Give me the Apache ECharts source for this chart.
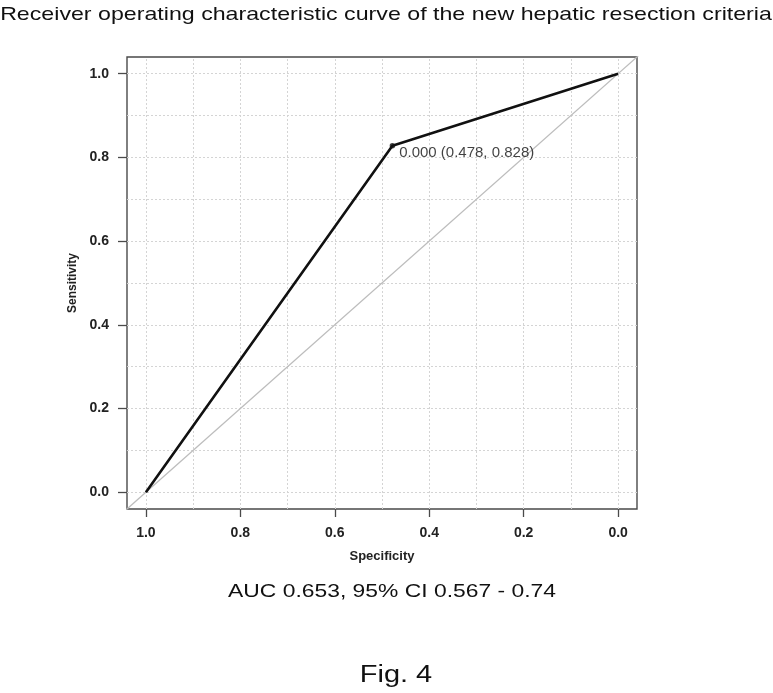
<!DOCTYPE html>
<html>
<head>
<meta charset="utf-8">
<script src="https://cdn.jsdelivr.net/npm/echarts@6/dist/echarts.min.js"></script>
<style>
  html, body { margin: 0; padding: 0; background: #fff; }
  #chart { width: 773px; height: 693px; }
</style>
</head>
<body>
<div id="chart"></div>
<script>
// ---- data ----
const specificity = [1.0, 0.478, 0.0];
const sensitivity = [0.0, 0.828, 1.0];
const thresholdPoint = [0.478, 0.828];
const thresholdLabel = '0.000 (0.478, 0.828)';
const chanceSpec = [1.5, -0.5];
const chanceSens = [-0.5, 1.5];
const tickValues = [0, 0.2, 0.4, 0.6, 0.8, 1.0];
const gridValues = [0, 0.1, 0.2, 0.3, 0.4, 0.5, 0.6, 0.7, 0.8, 0.9, 1.0];
const titleText = 'Receiver operating characteristic curve of the new hepatic resection criteria';
const aucText = 'AUC 0.653, 95% CI 0.567 - 0.74';
const figText = 'Fig. 4';
const xName = 'Specificity';
const yName = 'Sensitivity';

const FONT = '"Liberation Sans", Arial, Helvetica, sans-serif';
const chart = echarts.init(document.getElementById('chart'), null, { renderer: 'canvas' });

const rocData = specificity.map((s, i) => [s, sensitivity[i]]);
const chanceData = chanceSpec.map((s, i) => [s, chanceSens[i]]);
const gridLineStyle = { type: [2, 2], color: '#d4d4d4', width: 1 };

const option = {
  backgroundColor: '#fff',
  animation: false,
  textStyle: { fontFamily: FONT },
  grid: {
    left: 127, top: 57, width: 510, height: 452,
    show: true, borderColor: '#4a4a4a', borderWidth: 1.4, backgroundColor: 'transparent',
    containLabel: false
  },
  xAxis: {
    type: 'value', inverse: true, min: -0.04, max: 1.04,
    name: xName, nameLocation: 'middle', nameGap: 41,
    nameTextStyle: { fontSize: 13, fontWeight: 'bold', color: '#222', fontFamily: FONT },
    axisLine: { show: false, onZero: false },
    axisTick: { show: true, inside: false, length: 8, customValues: tickValues, lineStyle: { color: '#4a4a4a', width: 1.3 } },
    axisLabel: { show: true, customValues: tickValues, margin: 17, fontSize: 14, fontWeight: 'bold', color: '#222', fontFamily: FONT,
      formatter: v => v.toFixed(1) },
    splitLine: { show: false }
  },
  yAxis: {
    type: 'value', min: -0.04, max: 1.04,
    name: yName, nameLocation: 'middle', nameGap: 48, nameRotate: 90,
    nameTextStyle: { fontSize: 12, fontWeight: 'bold', color: '#222', fontFamily: FONT },
    axisLine: { show: false, onZero: false },
    axisTick: { show: true, inside: false, length: 9, customValues: tickValues, lineStyle: { color: '#4a4a4a', width: 1.3 } },
    axisLabel: { show: true, customValues: tickValues, margin: 18, fontSize: 14, fontWeight: 'bold', color: '#222', fontFamily: FONT,
      formatter: v => v.toFixed(1) },
    splitLine: { show: false }
  },
  series: [
    {
      type: 'line', data: [], z: 1, silent: true,
      markLine: {
        z: 1, silent: true, symbol: ['none', 'none'], animation: false,
        label: { show: false },
        lineStyle: gridLineStyle,
        data: gridValues.map(v => ({ xAxis: v })).concat(gridValues.map(v => ({ yAxis: v })))
      }
    },
    {
      type: 'line', data: chanceData, z: 2, clip: true, showSymbol: false, silent: true,
      lineStyle: { color: '#bdbdbd', width: 1.3 }
    },
    {
      type: 'line', data: rocData, z: 3, showSymbol: false, silent: true,
      lineStyle: { color: '#111', width: 2.6 }
    },
    {
      type: 'scatter', data: [thresholdPoint], z: 4, symbol: 'circle', symbolSize: 5.5, silent: true,
      itemStyle: { color: '#111' },
      label: { show: true, position: 'right', distance: 4, offset: [0, 7], formatter: thresholdLabel,
        fontSize: 15, color: '#111', fontFamily: FONT }
    }
  ],
  graphic: [
    { type: 'text', x: 386, y: 15, scaleX: 1.22, style: { text: titleText, x: 0, y: 0, align: 'center', verticalAlign: 'middle',
      font: 'normal 19px ' + FONT, fill: '#111' } },
    { type: 'text', x: 392, y: 592, scaleX: 1.27, style: { text: aucText, x: 0, y: 0, align: 'center', verticalAlign: 'middle',
      font: 'normal 18px ' + FONT, fill: '#111' } },
    { type: 'text', x: 396, y: 676, scaleX: 1.26, style: { text: figText, x: 0, y: 0, align: 'center', verticalAlign: 'middle',
      font: 'normal 23px ' + FONT, fill: '#111' } }
  ]
};
chart.setOption(option);
</script>
</body>
</html>
